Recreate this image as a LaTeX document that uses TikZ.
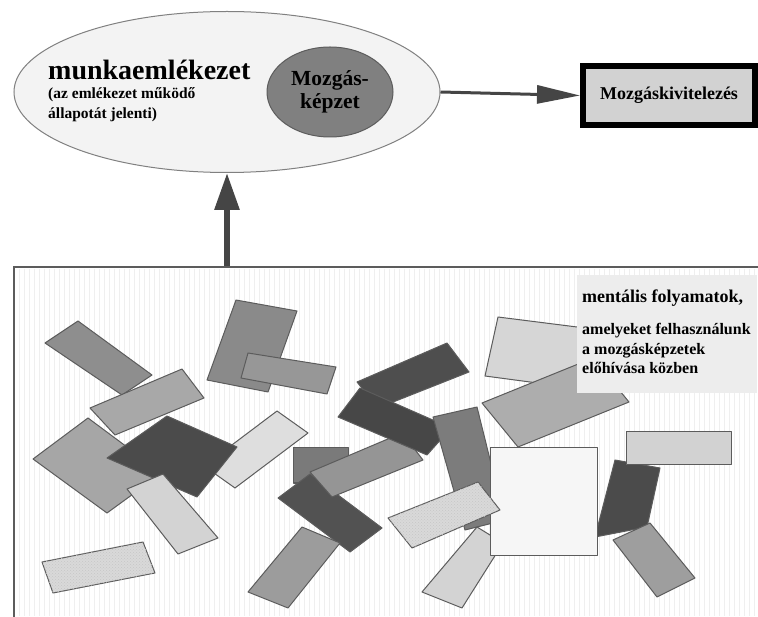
\documentclass[tikz,border=0pt]{standalone}
\usepackage{fontspec}
\setmainfont{Liberation Serif}
\usepackage{tikz}
\usetikzlibrary{arrows.meta,shapes.geometric,patterns}
\definecolor{edgegray}{HTML}{5C5C5C}
\definecolor{arrowgray}{HTML}{454545}
\definecolor{memfill}{HTML}{F3F3F3}
\definecolor{imgfill}{HTML}{808080}
\definecolor{execfill}{HTML}{D2D2D2}
\definecolor{notefill}{HTML}{EDEDED}
\definecolor{stripe}{HTML}{EFEFEF}
\tikzstyle{es} = [-{Triangle[length=43pt,width=18pt]}, line width=3pt, draw=arrowgray]
\tikzstyle{esup} = [-{Triangle[length=37pt,width=24pt]}, line width=6pt, draw=arrowgray]
\tikzstyle{tile} = [draw=edgegray, line width=1pt, line join=round]
\tikzstyle{dotted tile} = [tile, postaction={pattern=crosshatch dots, pattern color=gray!45}]

\begin{document}
\begin{tikzpicture}[x=1pt,y=-1pt,font=\bfseries]
			\useasboundingbox (0,0) rectangle (758,617);
			\fill[white] (0,0) rectangle (758,617);
			\draw[draw=edgegray, line width=2pt, fill=white] (14,267) rectangle (770,630);
			\foreach \x in {19,24,...,755}
				\draw[stripe, line width=0.6pt] (\x,269) -- (\x,616);
			\coordinate (paneltop) at (227,266);
			\draw[tile, fill={rgb,255:red,142;green,142;blue,142}] (78,321) -- (152,375) -- (122,395) -- (45,343) -- cycle;
			\draw[tile, fill={rgb,255:red,166;green,166;blue,166}] (33,459) -- (88,418) -- (162,473) -- (107,513) -- cycle;
			\draw[tile, fill={rgb,255:red,168;green,168;blue,168}] (90,408) -- (182,369) -- (204,398) -- (115,435) -- cycle;
			\draw[tile, fill={rgb,255:red,222;green,222;blue,222}] (204,466) -- (277,411) -- (308,433) -- (235,488) -- cycle;
			\draw[tile, fill={rgb,255:red,75;green,75;blue,75}] (107,458) -- (167,416) -- (237,447) -- (197,497) -- cycle;
			\draw[tile, fill={rgb,255:red,211;green,211;blue,211}] (127,489) -- (163,474) -- (218,538) -- (178,554) -- cycle;
			\draw[dotted tile, fill={rgb,255:red,217;green,217;blue,217}] (42,562) -- (143,542) -- (155,573) -- (53,593) -- cycle;
			\draw[tile, fill={rgb,255:red,138;green,138;blue,138}] (236,300) -- (297,311) -- (268,392) -- (207,380) -- cycle;
			\draw[tile, fill={rgb,255:red,151;green,151;blue,151}] (248,353) -- (336,367) -- (327,394) -- (241,378) -- cycle;
			\draw[tile, fill={rgb,255:red,122;green,122;blue,122}] (293,448) rectangle (348,483);
			\draw[tile, fill={rgb,255:red,82;green,82;blue,82}] (278,498) -- (310,474) -- (382,528) -- (350,552) -- cycle;
			\draw[tile, fill={rgb,255:red,149;green,149;blue,149}] (310,472) -- (402,433) -- (423,460) -- (332,497) -- cycle;
			\draw[tile, fill={rgb,255:red,156;green,156;blue,156}] (248,592) -- (302,527) -- (340,543) -- (288,608) -- cycle;
			\draw[tile, fill={rgb,255:red,78;green,78;blue,78}] (357,382) -- (447,343) -- (469,372) -- (378,408) -- cycle;
			\draw[tile, fill={rgb,255:red,71;green,71;blue,71}] (338,417) -- (360,388) -- (451,428) -- (427,455) -- cycle;
			\draw[tile, fill={rgb,255:red,214;green,214;blue,214}] (498,317) -- (585,328) -- (575,388) -- (485,376) -- cycle;
			\draw[tile, fill={rgb,255:red,173;green,173;blue,173}] (482,403) -- (593,358) -- (629,402) -- (518,447) -- cycle;
			\draw[tile, fill={rgb,255:red,124;green,124;blue,124}] (433,417) -- (477,407) -- (505,520) -- (465,530) -- cycle;
			\draw[tile, fill={rgb,255:red,75;green,75;blue,75}] (615,460) -- (660,468) -- (647,527) -- (595,537) -- cycle;
			\draw[tile, fill={rgb,255:red,158;green,158;blue,158}] (613,540) -- (650,523) -- (695,578) -- (657,597) -- cycle;
			\draw[tile, fill={rgb,255:red,211;green,211;blue,211}] (422,592) -- (477,527) -- (503,543) -- (462,608) -- cycle;
			\draw[tile, fill={rgb,255:red,246;green,246;blue,246}] (490,448) rectangle (597,555);
			\draw[dotted tile, fill={rgb,255:red,217;green,217;blue,217}] (388,518) -- (478,482) -- (500,510) -- (412,548) -- cycle;
			\draw[tile, fill={rgb,255:red,210;green,210;blue,210}] (626,432) rectangle (731,465);
			\fill[notefill] (577,275) rectangle (757,393);
			\node[anchor=base west, inner sep=0pt, font=\bfseries\fontsize{18}{21}\selectfont] (notetitle) at (582,303) {mentális folyamatok,};
			\node[anchor=base west, align=left, inner sep=0pt, font=\bfseries\fontsize{16}{19.5}\selectfont] (notetext) at (582,374) {amelyeket felhasználunk\\a mozgásképzetek\\előhívása közben};
			\node[ellipse, draw=gray, line width=1pt, fill=memfill, minimum width=426pt, minimum height=161pt] (memory) at (227,92) {};
			\node[anchor=base west, inner sep=0pt, font=\bfseries\fontsize{28}{32}\selectfont] (memtitle) at (48,80) {munkaemlékezet};
			\node[anchor=base west, align=left, inner sep=0pt, font=\bfseries\fontsize{15.5}{20}\selectfont] (memnote) at (48,119) {(az emlékezet működő\\állapotát jelenti)};
			\node[ellipse, draw=edgegray, line width=1pt, fill=imgfill, minimum width=126pt, minimum height=90pt, inner sep=0pt, align=center, font=\bfseries\fontsize{21.5}{23}\selectfont] (image) at (330,92) {Mozgás-\\képzet};
			\node[draw=black, line width=6pt, fill=execfill, minimum width=172pt, minimum height=59pt, font=\bfseries\fontsize{18}{21}\selectfont] (exec) at (669,95.5) {Mozgáskivitelezés};
			\draw[es] (memory.east) -- (exec.west);
			\draw[esup] (paneltop) -- (memory.south);
		\end{tikzpicture}
\end{document}
